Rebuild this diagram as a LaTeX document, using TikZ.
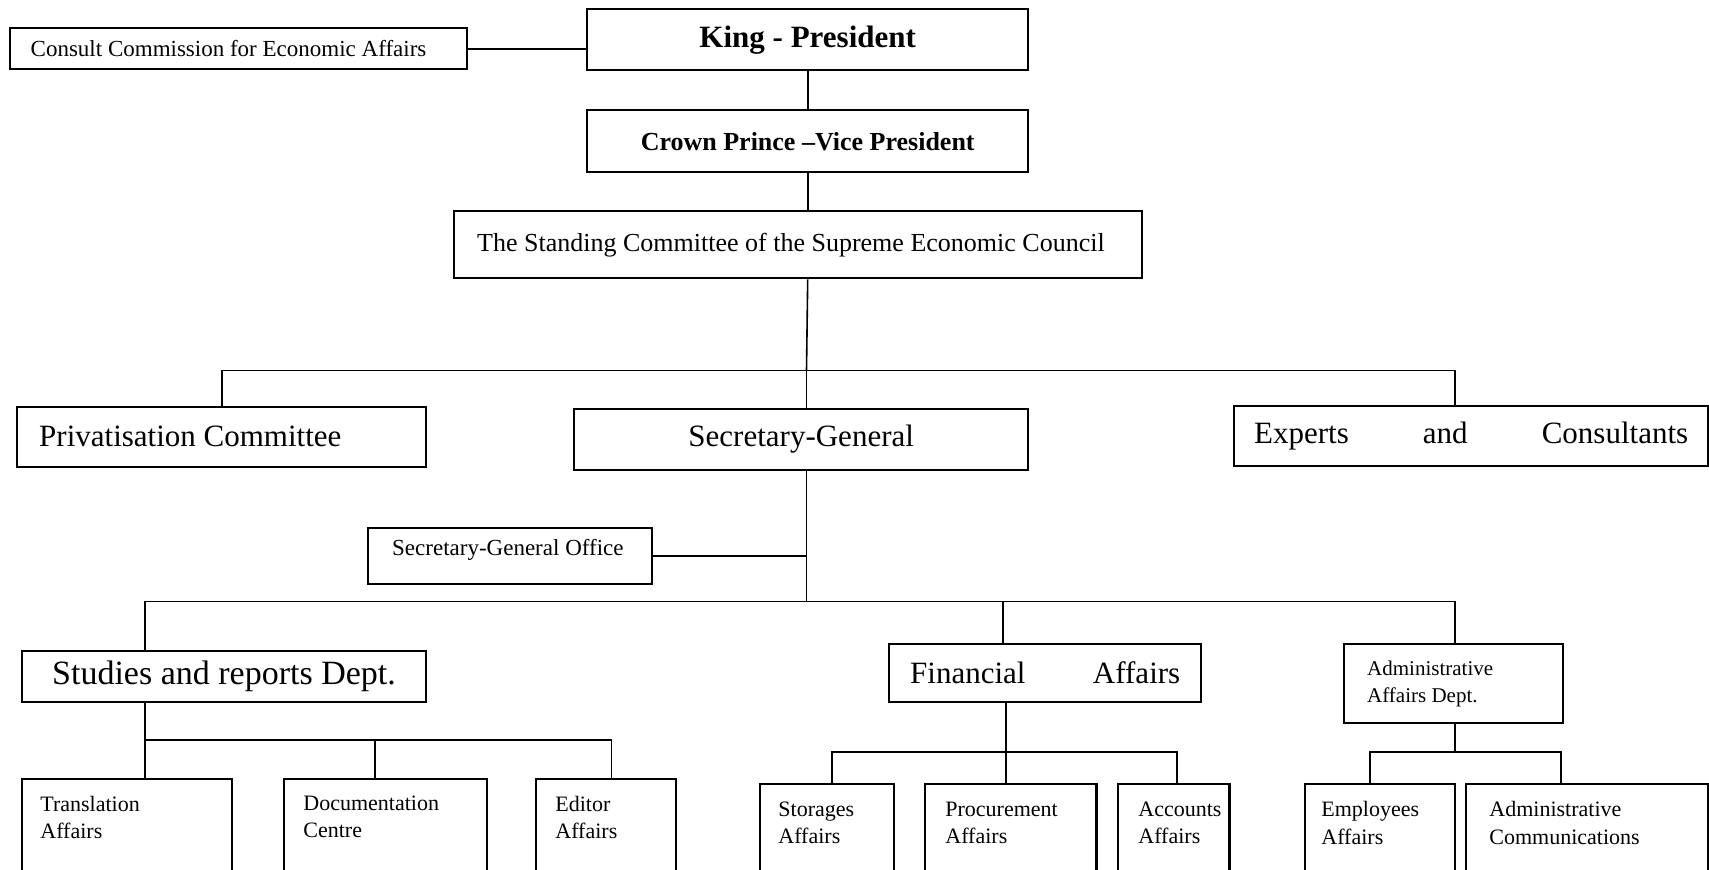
\documentclass[tikz,border=0pt]{standalone}
\usepackage{fontspec}
\setmainfont{Liberation Serif}
\begin{document}
\begin{tikzpicture}[x=1pt,y=-1pt,
  unit/.style={draw, line width=1.2pt, anchor=north west, inner ysep=0pt},
  wh/.style 2 args={minimum width=#1pt, minimum height=#2pt},
  link/.style={line width=0.8pt},
  big/.style={font=\fontsize{15.5}{18}\selectfont},
  mid/.style={font=\fontsize{13}{16}\selectfont},
  small/.style={font=\fontsize{11.5}{14}\selectfont},
  leaftext/.style={anchor=north west, inner sep=0pt, align=left,
    font=\fontsize{11}{13.6}\selectfont},
]
\useasboundingbox (0,0) rectangle (854.5,434.5);

% --- top of the hierarchy
\node[unit, wh={220.5}{30.5}, font=\bfseries\fontsize{15.5}{18}\selectfont] (king) at (293,4) {King - President};
\node[unit, wh={228.5}{20.5}, small, inner xsep=10.25pt] (consult) at (4.5,13.5)
  {\makebox[208pt][l]{Consult Commission for Economic Affairs}};
\node[unit, wh={220.5}{31}, font=\bfseries\fontsize{13}{16}\selectfont] (crown) at (293,54.5) {Crown Prince –Vice President};
\node[unit, wh={344}{33.5}, mid, inner xsep=11.5pt] (standing) at (226.5,105)
  {\makebox[321pt][l]{The Standing Committee of the Supreme Economic Council}};

\draw[link] (consult.east) -- (consult.east -| king.west);
\draw[link] (king.south) -- (crown.north);
\draw[link] (crown.south) -- (crown.south |- standing.north);

% --- second level
\node[unit, wh={204.5}{30}, big, inner xsep=11pt] (priv) at (8,202.75)
  {\makebox[182.5pt][l]{Privatisation Committee}};
\node[unit, wh={227}{30.5}, big] (sg) at (286.5,203.8) {Secretary-General};
\node[unit, wh={237}{30}, big] (experts) at (616.5,202.5)
  {\hbox to 217pt{Experts\hfill and\hfill Consultants}};

\coordinate (j1) at (403.25,185.3);
\coordinate (e1) at (727.5,185.3);
\draw[link] (crown.south |- standing.south) -- (j1);
\draw[link] (priv.north) |- (j1) -- (e1) -- (e1 |- experts.north);
\draw[link] (j1) -- (j1 |- sg.north);

% --- secretariat
\node[unit, wh={142}{28.25}, small, inner xsep=12pt] (sgo) at (183.5,263.25)
  {\raisebox{3.2pt}[\height][\depth]{\makebox[118pt][l]{Secretary-General Office}}};
\coordinate (j2) at (403.25,300.8);
\draw[link] (j1 |- sg.south) -- (j2);
\draw[link] (sgo.east) -- (sgo.east -| j2);

% --- departments
\node[unit, wh={202.15}{25.6}, font=\fontsize{17}{20}\selectfont] (studies) at (10.35,324.8) {Studies and reports Dept.};
\node[unit, wh={156}{29}, big] (fin) at (444,321.5) {\hbox to 135pt{Financial\hfill Affairs}};
\node[unit, wh={109.5}{39.25}, font=\fontsize{10.5}{13.5}\selectfont, inner xsep=11.5pt] (adm) at (671.5,321.5)
  {\parbox{86.5pt}{\raggedright Administrative\\Affairs Dept.}};

\coordinate (b1) at (72.5,300.8);
\coordinate (b2) at (501.5,300.8);
\coordinate (b3) at (727.5,300.8);
\draw[link] (b1 |- studies.north) -- (b1) -- (b3) -- (b3 |- adm.north);
\draw[link] (b2) -- (b2 |- fin.north);

% --- units under Studies and reports
\node[unit, wh={105.15}{60}] (trans) at (10.35,389) {};
\node[unit, wh={101.5}{60}] (doc) at (141.5,389) {};
\node[unit, wh={70}{60}] (edit) at (267.5,389) {};
\node[leaftext] at ([shift={(9.65,8.8)}]trans.north west) {Translation\\Affairs};
\node[leaftext] at ([shift={(10,8.8)}]doc.north west) {Documentation\\Centre};
\node[leaftext] at ([shift={(10,8.8)}]edit.north west) {Editor\\Affairs};

\coordinate (s0) at (72.5,370);
\coordinate (s1) at (187.5,370);
\coordinate (s2) at (305.75,370);
\draw[link] (b1 |- studies.south) -- (s0) -- (s2) -- (s2 |- edit.north);
\draw[link] (s0) -- (s0 |- trans.north);
\draw[link] (s1) -- (s1 |- doc.north);

% --- units under Financial Affairs
\node[unit, wh={67}{60}] (stor) at (379.3,391.3) {};
\node[unit, wh={85.7}{60}] (proc) at (462,391.3) {};
\node[unit, wh={55.7}{60}] (acc) at (558.5,391.3) {};
\node[leaftext] at ([shift={(9.7,9.3)}]stor.north west) {Storages\\Affairs};
\node[leaftext] at ([shift={(10.5,9.3)}]proc.north west) {Procurement\\Affairs};
\node[leaftext] at ([shift={(10.5,9.3)}]acc.north west) {Accounts\\Affairs};

\coordinate (f0) at (503,376);
\coordinate (f1) at (416,376);
\coordinate (f2) at (588.5,376);
\draw[link] (f0 |- fin.south) -- (f0);
\draw[link] (f1 |- stor.north) -- (f1) -- (f2) -- (f2 |- acc.north);
\draw[link] (f0) -- (f0 |- proc.north);

% --- units under Administrative Affairs
\node[unit, wh={75.2}{60}] (emp) at (651.8,391.3) {};
\node[unit, wh={121}{60}] (comm) at (732.5,391.3) {};
\node[leaftext] at ([shift={(8.7,9.3)}]emp.north west) {Employees\\Affairs};
\node[leaftext] at ([shift={(12,9.3)}]comm.north west) {Administrative\\Communications};

\coordinate (a0) at (727.5,376);
\coordinate (a1) at (685,376);
\coordinate (a2) at (780.5,376);
\draw[link] (b3 |- adm.south) -- (a0);
\draw[link] (a1 |- emp.north) -- (a1) -- (a2) -- (a2 |- comm.north);
\end{tikzpicture}
\end{document}
